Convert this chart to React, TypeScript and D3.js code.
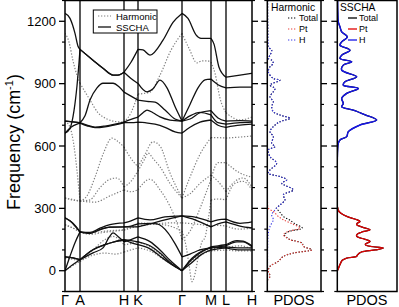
import React from "react";
import * as d3 from "d3";

const kLabels = ["Γ", "A", "H", "K", "Γ", "M", "L", "H"];
const kTicks = [0, 15, 59, 73, 117, 146, 161, 187];
const yMajor = [0, 300, 600, 900, 1200];
const yMinor = [-100, 100, 200, 400, 500, 700, 800, 1000, 1100, 1300];

// SSCHA bands [k, frequency]
const s1 = [[0,1238],[5,1214],[10,1142],[13,1080],[15,1065],[28,1013],[38,974],[48,941],[53,941],[59,955],[66,1003],[73,1065],[78,1062],[85,1037],[98,1109],[108,1195],[117,1238],[123,1214],[131,1135],[136,1118],[146,1118],[149,1090],[154,979],[161,931],[175,941],[187,950]];
const s2 = [[0,662],[5,685],[9,770],[12,890],[14,1000],[15,1065],[28,1013],[38,974],[48,941],[53,941],[59,955],[66,925],[73,901],[82,860],[88,875],[95,917],[102,880],[110,790],[117,720],[125,800],[133,880],[140,918],[146,922],[153,895],[161,880],[175,883],[187,883]];
const s3 = [[0,720],[8,716],[15,712],[20,745],[25,821],[32,880],[38,902],[48,902],[54,885],[59,859],[66,840],[73,821],[82,815],[90,811],[100,773],[110,730],[117,720],[125,745],[135,762],[146,750],[153,712],[161,705],[175,712],[187,715]];
const s4 = [[0,720],[15,712],[22,700],[30,691],[40,696],[50,705],[59,715],[66,728],[73,739],[78,760],[82,773],[88,760],[95,740],[105,725],[117,720],[125,730],[135,760],[146,770],[153,735],[161,720],[175,722],[187,720]];
const s5 = [[0,662],[6,690],[12,705],[15,710],[22,697],[30,688],[40,692],[50,702],[59,712],[66,712],[73,715],[80,712],[90,705],[100,690],[110,668],[117,662],[125,690],[135,715],[146,725],[153,700],[161,690],[175,700],[187,705]];
const sl1 = [[0,255],[5,240],[10,215],[15,187],[25,184],[35,205],[45,222],[59,230],[66,240],[73,254],[85,245],[100,259],[117,264],[130,258],[146,235],[153,245],[161,248],[175,228],[187,235]];
const sl2 = [[0,255],[8,228],[15,187],[25,180],[35,198],[45,210],[59,211],[66,211],[73,211],[85,225],[100,245],[117,264],[130,245],[146,211],[153,225],[161,235],[175,215],[187,206]];
const sl3 = [[0,0],[5,70],[10,135],[15,187],[25,180],[35,198],[45,210],[59,211],[66,215],[73,225],[85,228],[92,225],[103,182],[110,130],[117,67],[125,80],[135,100],[146,110],[153,115],[161,120],[172,139],[178,139],[187,115]];
const sl4 = [[0,67],[8,62],[15,53],[28,86],[38,110],[44,160],[48,182],[53,165],[59,139],[66,150],[73,163],[85,140],[95,100],[105,50],[117,0],[125,45],[135,85],[146,115],[153,120],[161,125],[172,145],[178,142],[187,120]];
const sl5 = [[0,67],[8,62],[15,53],[28,101],[40,125],[50,140],[59,149],[66,145],[73,139],[85,120],[95,85],[105,40],[117,0],[127,60],[137,95],[146,110],[153,112],[161,115],[175,110],[187,110]];
const sl6 = [[0,0],[8,30],[15,53],[28,101],[40,125],[50,140],[59,149],[66,135],[73,125],[85,105],[95,70],[105,35],[117,0],[127,40],[137,80],[146,100],[153,105],[161,110],[175,100],[187,100]];

// Harmonic bands [k, frequency]
const h1 = [[0,1142],[4,1100],[8,1010],[12,940],[15,902],[25,821],[33,760],[42,730],[50,718],[59,715],[66,760],[73,850],[85,859],[95,941],[106,1061],[117,1142],[124,1070],[132,1000],[137,1010],[142,1010],[146,1003],[150,950],[155,830],[161,760],[175,725],[187,740]];
const h2 = [[0,720],[5,690],[9,600],[12,480],[15,335],[25,341],[35,400],[45,440],[52,446],[59,403],[66,430],[73,480],[80,540],[83,566],[88,540],[95,500],[105,420],[117,350],[125,370],[135,420],[146,460],[153,430],[161,380],[170,430],[178,446],[187,403]];
const h3 = [[0,350],[8,340],[15,335],[22,360],[30,450],[38,560],[47,638],[52,625],[59,595],[66,540],[73,500],[80,560],[88,620],[95,600],[105,470],[117,350],[125,450],[135,560],[146,640],[153,640],[161,638],[175,643],[187,648]];
const h4 = [[0,221],[8,205],[15,187],[25,182],[40,190],[59,197],[66,210],[73,230],[90,225],[105,215],[117,190],[121,120],[124,30],[127,-53],[130,-15],[133,60],[137,140],[140,160],[143,240],[146,340],[153,345],[161,341],[170,420],[178,430],[187,389]];
const h5 = [[0,221],[8,205],[15,187],[25,175],[40,185],[59,195],[66,205],[73,215],[90,225],[105,230],[117,230],[130,225],[146,215],[153,218],[161,215],[175,200],[187,205]];
const h6 = [[0,0],[8,25],[15,45],[28,75],[40,85],[50,80],[59,90],[66,100],[73,110],[85,95],[100,50],[117,0],[130,60],[146,95],[161,100],[175,95],[187,95]];
const h7 = [[0,60],[8,55],[15,45],[28,100],[40,150],[48,165],[59,125],[66,130],[73,140],[85,115],[100,60],[117,0],[130,70],[146,105],[161,110],[175,120],[187,105]];
const h8 = [[0,350],[15,335],[30,330],[45,360],[59,389],[66,380],[73,390],[85,440],[95,389],[105,310],[112,230],[117,150],[125,190],[135,300],[146,440],[153,520],[161,520],[175,470],[187,450]];

const sschaBands = [s1, s2, s3, s4, s5, sl1, sl2, sl3, sl4, sl5, sl6];
const harmonicBands = [h1, h2, h3, h4, h5, h6, h7, h8];

// PDOS [frequency, value]
const harmPt = [[330,0.3],[301,1],[285,6],[261,11],[245,16],[225,25],[205,32.7],[189,21],[173,16],[160,19],[149,22.7],[133,34.4],[117,36],[101,44.4],[85,26],[69,16],[45,11],[21,2.7],[0,1],[-27,2.7],[-45,0.3]];
const harmH = [[1300,0.3],[1150,0.5],[1100,0.8],[1077,1],[1061,4.4],[1037,2.7],[1021,1],[1013,4.4],[997,6],[981,2.7],[957,1],[925,6],[917,12.7],[893,2.7],[877,7.7],[861,6],[837,2.7],[813,6],[789,4.4],[765,6],[749,12.7],[733,22.7],[717,12.7],[693,6],[669,2.7],[645,6],[613,4.4],[597,7.7],[581,1],[549,2.7],[517,9.4],[485,2.7],[469,1],[453,12.7],[437,19.4],[421,14.4],[389,26],[365,16],[341,17.7],[317,12.7],[293,7.7],[269,4.4],[245,6],[213,2.7],[181,1],[150,0.5],[100,0.3],[0,0.2]];
const harmTotal = [[1300,0.3],[1150,0.5],[1077,1],[1061,4.4],[1037,2.7],[1021,1],[1013,4.4],[997,6],[981,2.7],[957,1],[925,6],[917,12.7],[893,2.7],[877,7.7],[861,6],[837,2.7],[813,6],[789,4.4],[765,6],[749,12.7],[733,22.7],[717,12.7],[693,6],[669,2.7],[645,6],[613,4.4],[597,7.7],[581,1],[549,2.7],[517,9.4],[485,2.7],[469,1],[453,12.7],[437,19.4],[421,14.4],[389,26],[365,16],[341,17.7],[317,13],[301,9],[285,12],[261,16],[245,22],[225,28],[205,35],[189,22],[173,17],[160,19.5],[149,23],[133,34.8],[117,36.2],[101,44.6],[85,26.2],[69,16],[45,11],[21,2.7],[0,1],[-27,2.7],[-45,0.3]];
const sschaPt = [[310,0],[300,0.5],[290,1],[275,4],[260,10],[245,20],[237,22.7],[229,20],[221,19.4],[210,25],[197,32.7],[185,24],[175,19.8],[165,19.4],[155,25],[141,32.7],[128,28],[120,30],[109,46],[100,38],[90,24],[75,20],[69,19.4],[61,9.4],[50,5],[30,2.7],[10,1],[0,0]];
const sschaH = [[1300,0.3],[1240,0.5],[1197,1],[1173,2.7],[1149,4.4],[1125,10],[1101,4.4],[1085,2.7],[1061,12.7],[1037,4.4],[1021,2.7],[1005,14.4],[989,6],[965,4.4],[933,19.4],[909,7.7],[893,6],[877,21],[853,9.4],[829,4.4],[805,6],[789,4.4],[773,16],[750,28],[725,39.4],[701,22.7],[669,11],[645,9.4],[629,2.7],[613,1],[580,0.3],[500,0]];
const sschaTotal = [...sschaH, ...sschaPt];

const W = 399, H = 307;
const FONT = "Liberation Sans, Arial, Helvetica, sans-serif";

export default function App() {
  const y = d3.scaleLinear().domain([-100, 1300]).range([291.5, 0.5]);
  const x = d3.scaleLinear().domain([0, 187]).range([65, 252]);
  const xh = d3.scaleLinear().domain([0, 53.7]).range([267.3, 321]);
  const xs = d3.scaleLinear().domain([0, 59.7]).range([337.3, 397]);

  const segLine = d3.line<number[]>().x(d => x(d[0])).y(d => y(d[1])).curve(d3.curveMonotoneX);
  const bandPath = (band: number[][]) => {
    let p = "";
    for (let i = 0; i < kTicks.length - 1; i++) {
      const seg = band.filter(d => d[0] >= kTicks[i] && d[0] <= kTicks[i + 1]);
      if (seg.length > 1) p += segLine(seg) || "";
    }
    return p;
  };
  const dosLine = (sx: d3.ScaleLinear<number, number>) =>
    d3.line<number[]>().x(d => sx(d[1])).y(d => y(d[0])).curve(d3.curveCatmullRom.alpha(0.5));

  const dotted = "1.3 1.7";
  const harmColor = "#808080";
  const top = y(1300), bot = y(-100);

  const leftTicks = (x0: number, dir: number, key: string) => (
    <g key={key}>
      {yMajor.map(v => <line key={"M" + v} x1={x0} x2={x0 + dir * 6} y1={y(v)} y2={y(v)} stroke="#000" strokeWidth={1.3} />)}
      {yMinor.map(v => <line key={"m" + v} x1={x0} x2={x0 + dir * 3} y1={y(v)} y2={y(v)} stroke="#000" strokeWidth={1.2} />)}
    </g>
  );

  return (
    <svg width={W} height={H} style={{ position: "absolute", left: 0, top: 0, background: "#fff" }} fontFamily={FONT}>
      <defs>
        <clipPath id="mainClip"><rect x={65} y={top} width={187} height={bot - top} /></clipPath>
        <clipPath id="hClip"><rect x={267.3} y={top} width={53.7} height={bot - top} /></clipPath>
        <clipPath id="sClip"><rect x={337.3} y={top} width={59.7} height={bot - top} /></clipPath>
      </defs>
      <g clipPath="url(#mainClip)" fill="none">
        {harmonicBands.map((b, i) => <path key={"h" + i} d={bandPath(b)} stroke={harmColor} strokeWidth={1.2} strokeDasharray={dotted} />)}
        {sschaBands.map((b, i) => <path key={"s" + i} d={bandPath(b)} stroke="#111" strokeWidth={1.3} />)}
      </g>
      {kTicks.slice(1, -1).map((k, i) => <line key={"v" + i} x1={x(k)} x2={x(k)} y1={top} y2={bot} stroke="#000" strokeWidth={1.3} />)}
      <rect x={65} y={top} width={187} height={bot - top} fill="none" stroke="#000" strokeWidth={1.5} />
      {leftTicks(65, -1, "lt")}
      {leftTicks(252, 1, "rt")}
      {yMajor.map(v => <text key={"yl" + v} x={56} y={y(v) + 4.6} fontSize={13} textAnchor="end">{v}</text>)}
      {kTicks.map((k, i) => <text key={"kl" + i} x={x(k)} y={305} fontSize={14.5} textAnchor="middle">{kLabels[i]}</text>)}
      <text transform="translate(20,142) rotate(-90)" fontSize={18} textAnchor="middle">
        Frequency (cm<tspan fontSize={11} dy={-7}>-1</tspan><tspan dy={7}>)</tspan>
      </text>
      <rect x={93.3} y={10} width={63.7} height={23} fill="#fff" stroke="#000" strokeWidth={1} />
      <line x1={98} x2={111} y1={16} y2={16} stroke={harmColor} strokeWidth={1.2} strokeDasharray={dotted} />
      <text x={116} y={19.5} fontSize={9.5}>Harmonic</text>
      <line x1={98} x2={111} y1={27} y2={27} stroke="#111" strokeWidth={1.3} />
      <text x={116} y={30.5} fontSize={9.5}>SSCHA</text>

      <g clipPath="url(#hClip)" fill="none">
        <path d={dosLine(xh)(harmTotal) || ""} stroke="#000" strokeWidth={1.1} strokeDasharray={dotted} />
        <path d={dosLine(xh)(harmPt) || ""} stroke="#e8413c" strokeWidth={1.1} strokeDasharray={dotted} />
        <path d={dosLine(xh)(harmH) || ""} stroke="#3a3ae6" strokeWidth={1.1} strokeDasharray={dotted} />
      </g>
      <rect x={267.3} y={top} width={53.7} height={bot - top} fill="none" stroke="#000" strokeWidth={1.5} />
      {leftTicks(267.3, -1, "ht1")}
      {leftTicks(321, 1, "ht2")}
      <text x={271} y={10.5} fontSize={10.3}>Harmonic</text>
      <line x1={288} x2={297} y1={18} y2={18} stroke="#000" strokeWidth={1.1} strokeDasharray={dotted} />
      <text x={299} y={21.3} fontSize={9}>Total</text>
      <line x1={288} x2={297} y1={29} y2={29} stroke="#e8413c" strokeWidth={1.1} strokeDasharray={dotted} />
      <text x={299} y={32.3} fontSize={9}>Pt</text>
      <line x1={288} x2={297} y1={40} y2={40} stroke="#3a3ae6" strokeWidth={1.1} strokeDasharray={dotted} />
      <text x={299} y={43.3} fontSize={9}>H</text>
      <text x={294} y={305} fontSize={14.5} textAnchor="middle">PDOS</text>

      <g clipPath="url(#sClip)" fill="none">
        <path d={dosLine(xs)(sschaTotal) || ""} stroke="#000" strokeWidth={1.3} />
        <path d={dosLine(xs)(sschaPt) || ""} stroke="#e00000" strokeWidth={1.3} />
        <path d={dosLine(xs)(sschaH) || ""} stroke="#1515e6" strokeWidth={1.4} />
      </g>
      <rect x={337.3} y={top} width={59.7} height={bot - top} fill="none" stroke="#000" strokeWidth={1.5} />
      {leftTicks(337.3, -1, "st1")}
      <text x={340} y={10.5} fontSize={10.3}>SSCHA</text>
      <line x1={348} x2={357} y1={18} y2={18} stroke="#000" strokeWidth={1.3} />
      <text x={359} y={21.3} fontSize={9}>Total</text>
      <line x1={348} x2={357} y1={29} y2={29} stroke="#e00000" strokeWidth={1.3} />
      <text x={359} y={32.3} fontSize={9}>Pt</text>
      <line x1={348} x2={357} y1={40} y2={40} stroke="#1515e6" strokeWidth={1.3} />
      <text x={359} y={43.3} fontSize={9}>H</text>
      <text x={367} y={305} fontSize={14.5} textAnchor="middle">PDOS</text>
    </svg>
  );
}
